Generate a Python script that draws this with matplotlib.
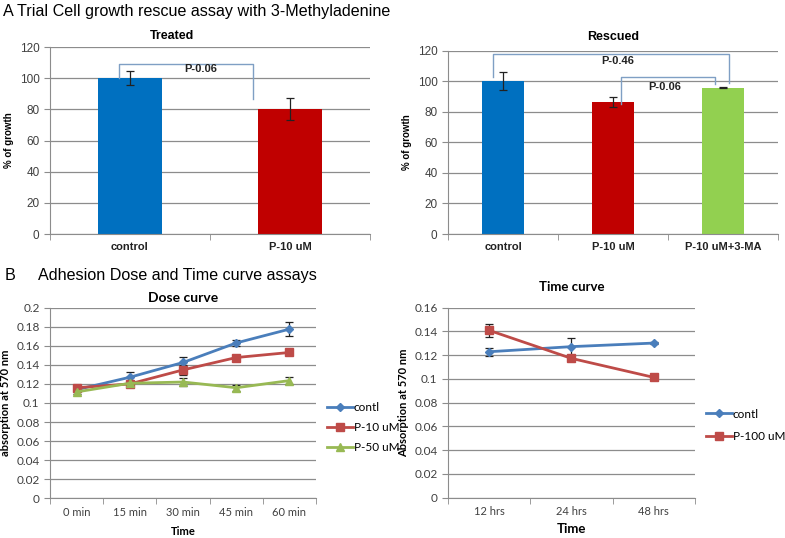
import numpy as np
import matplotlib.pyplot as plt

# Panel A - growth rescue bars
treated_cats = ['control', 'P-10 uM']
treated_vals = [100, 80]
treated_err = [4.5, 7]

rescued_cats = ['control', 'P-10 uM', 'P-10 uM+3-MA']
rescued_vals = [100, 86.5, 95.8]
rescued_err = [6, 3.5, 0.5]

# Panel B - adhesion curves
dose_times = ['0 min', '15 min', '30 min', '45 min', '60 min']
dose_contl = [0.114, 0.127, 0.1425, 0.163, 0.1775]
dose_contl_err = [0.002, 0.005, 0.006, 0.003, 0.007]
dose_p10 = [0.116, 0.120, 0.1347, 0.1477, 0.153]
dose_p10_err = [0.002, 0.002, 0.005, 0.002, 0.002]
dose_p50 = [0.1116, 0.1207, 0.122, 0.116, 0.1235]
dose_p50_err = [0.002, 0.002, 0.004, 0.003, 0.004]

time_pts = ['12 hrs', '24 hrs', '48 hrs']
time_contl = [0.1229, 0.1272, 0.1302]
time_contl_err = [0.0035, 0.007, 0.001]
time_p100 = [0.1409, 0.1173, 0.1013]
time_p100_err = [0.0055, 0.002, 0.001]

GRID = '#8c8c8c'
TXT = '#404040'
BRK = '#7f9fc4'


def style_ax(ax, ncat, fs_tick, family):
    for s in ['top', 'right']:
        ax.spines[s].set_visible(False)
    ax.spines['left'].set_color(GRID)
    ax.spines['bottom'].set_color(GRID)
    ax.yaxis.grid(True, color=GRID, lw=0.9)
    ax.set_axisbelow(True)
    ax.set_xlim(-0.5, ncat - 0.5)
    ax.set_xticks(np.arange(ncat))
    ax.set_xticks(np.arange(ncat + 1) - 0.5, minor=True)
    ax.tick_params(axis='x', which='major', length=0, pad=6)
    ax.tick_params(axis='x', which='minor', length=4, color=GRID, direction='out')
    ax.tick_params(axis='y', length=4, color=GRID, labelsize=fs_tick, labelcolor=TXT)
    for t in ax.get_yticklabels():
        t.set_family(family)


def bracket(ax, x1, y1, x2, y2, top, label, lx, ly):
    ax.plot([x1, x1, x2, x2], [y1, top, top, y2], color=BRK, lw=1)
    ax.text(lx, ly, label, ha='center', va='center', fontsize=8, fontweight='bold',
            family='Liberation Sans', color='#222222')


def curve(ax, x, y, err, color, marker, ms, label):
    ax.errorbar(x, y, yerr=err, fmt='none', capsize=3, elinewidth=0.9, capthick=0.9,
                ecolor='#222222', zorder=2)
    ax.plot(x, y, color=color, marker=marker, ms=ms, lw=2, label=label, zorder=3)


fig = plt.figure(figsize=(7.85, 5.38), dpi=100)

fig.text(0.004, 0.978, 'A', fontsize=11.6, family='Liberation Sans', va='center')
fig.text(0.022, 0.978, 'Trial Cell growth rescue assay with 3-Methyladenine', fontsize=11.6,
         family='Liberation Sans', va='center')
fig.text(0.006, 0.487, 'B', fontsize=11.6, family='Liberation Sans', va='center')
fig.text(0.048, 0.487, 'Adhesion Dose and Time curve assays', fontsize=11.6,
         family='Liberation Sans', va='center')

# Treated
ax1 = fig.add_axes([0.0637, 0.565, 0.4076, 0.3476])
x = np.arange(len(treated_cats))
ax1.bar(x, treated_vals, width=0.4, color=['#0070c0', '#c00000'],
        yerr=treated_err, capsize=3, error_kw=dict(ecolor='#222222', elinewidth=0.9, capthick=0.9))
ax1.set_ylim(0, 120)
ax1.set_yticks(range(0, 121, 20))
style_ax(ax1, 2, 8.5, 'Liberation Sans')
ax1.set_xticklabels(treated_cats, fontsize=8, fontweight='bold', family='Liberation Sans', color='#222222')
ax1.set_ylabel('% of growth', fontsize=7, fontweight='bold', family='Liberation Sans', labelpad=4)
ax1.set_title('Treated', fontsize=9, fontweight='bold', family='Liberation Sans', pad=6, x=0.38)
bracket(ax1, -0.07, 100, 0.77, 86.5, 109, 'P-0.06', 0.44, 106)

# Rescued
ax2 = fig.add_axes([0.5707, 0.565, 0.4204, 0.3407])
x = np.arange(len(rescued_cats))
ax2.bar(x, rescued_vals, width=0.39, color=['#0070c0', '#c00000', '#92d050'],
        yerr=rescued_err, capsize=3, error_kw=dict(ecolor='#222222', elinewidth=0.9, capthick=0.9))
ax2.set_ylim(0, 120)
ax2.set_yticks(range(0, 121, 20))
style_ax(ax2, 3, 8.5, 'Liberation Sans')
ax2.set_xticklabels(rescued_cats, fontsize=8, fontweight='bold', family='Liberation Sans', color='#222222')
ax2.set_ylabel('% of growth', fontsize=7, fontweight='bold', family='Liberation Sans', labelpad=4)
ax2.set_title('Rescued', fontsize=9, fontweight='bold', family='Liberation Sans', pad=8)
bracket(ax2, -0.09, 103, 2.05, 98.6, 117.6, 'P-0.46', 1.04, 113)
bracket(ax2, 1.07, 85, 1.93, 98, 102.6, 'P-0.06', 1.47, 96)

# Dose curve
ax3 = fig.add_axes([0.0637, 0.0738, 0.3389, 0.3543])
x = np.arange(len(dose_times))
curve(ax3, x, dose_contl, dose_contl_err, '#4a7ebb', 'D', 4.5, 'contl')
curve(ax3, x, dose_p10, dose_p10_err, '#be4b48', 's', 6, 'P-10 uM')
curve(ax3, x, dose_p50, dose_p50_err, '#98b954', '^', 6, 'P-50 uM')
ax3.set_ylim(0, 0.2)
ax3.set_yticks(np.arange(0, 0.201, 0.02))
ax3.set_yticklabels(['0', '0.02', '0.04', '0.06', '0.08', '0.1', '0.12', '0.14', '0.16', '0.18', '0.2'])
style_ax(ax3, 5, 8.5, 'Lato')
ax3.set_xticklabels(dose_times, fontsize=8, family='Lato', color=TXT)
ax3.set_xlabel('Time', fontsize=8, fontweight='bold', family='Lato', labelpad=6)
ax3.set_ylabel('absorption at 570 nm', fontsize=8, fontweight='bold', family='Lato', labelpad=4)
ax3.set_title('Dose curve', fontsize=10, fontweight='bold', family='Lato', pad=4)
ax3.legend(loc='center left', bbox_to_anchor=(1.0, 0.37), frameon=False,
           prop=dict(family='Lato', size=8.5), handlelength=2.2, handletextpad=0.1,
           labelspacing=0.75)

# Time curve
ax4 = fig.add_axes([0.5707, 0.0749, 0.3146, 0.3532])
x = np.arange(len(time_pts))
curve(ax4, x, time_contl, time_contl_err, '#4a7ebb', 'D', 4.5, 'contl')
curve(ax4, x, time_p100, time_p100_err, '#be4b48', 's', 6, 'P-100 uM')
ax4.set_ylim(0, 0.16)
ax4.set_yticks(np.arange(0, 0.161, 0.02))
ax4.set_yticklabels(['0', '0.02', '0.04', '0.06', '0.08', '0.1', '0.12', '0.14', '0.16'])
style_ax(ax4, 3, 8.5, 'Lato')
ax4.set_xticklabels(time_pts, fontsize=8, family='Lato', color=TXT)
ax4.set_xlabel('Time', fontsize=9.5, fontweight='bold', family='Lato', labelpad=4)
ax4.set_ylabel('Absorption at 570 nm', fontsize=8, fontweight='bold', family='Lato', labelpad=4)
ax4.set_title('Time curve', fontsize=9.5, fontweight='bold', family='Lato', pad=12)
ax4.legend(loc='center left', bbox_to_anchor=(1.0, 0.38), frameon=False,
           prop=dict(family='Lato', size=8.5), handlelength=2.2, handletextpad=0.1,
           labelspacing=1.0)

fig.savefig('out.png', dpi=100)
